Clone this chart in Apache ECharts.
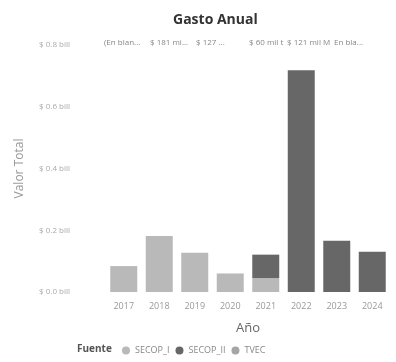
<!DOCTYPE html>
<html>
<head>
<meta charset="utf-8">
<script src="https://cdn.jsdelivr.net/npm/echarts@6/dist/echarts.min.js"></script>
<style>
  html, body { margin: 0; padding: 0; background: #fff; }
  #chart { width: 396px; height: 362px; }
</style>
</head>
<body>
<div id="chart"></div>
<script>
var years = ['2017', '2018', '2019', '2020', '2021', '2022', '2023', '2024'];
// valores en billones
var secopI = [0.084, 0.181, 0.127, 0.060, 0.045, 0, 0, 0];
var secopII = [0, 0, 0, 0, 0.076, 0.718, 0.166, 0.130];
var tvec = [0, 0, 0, 0, 0, 0, 0, 0];
var topLabels = ['(En blan...', '$ 181 mi...', '$ 127 ...', '$ 60 mil t', '$ 121 mil M', 'En bla...'];
var topLabelX = [104, 150, 196, 249, 287, 334];

var chart = echarts.init(document.getElementById('chart'));

var font = '"Open Sans", "DejaVu Sans", sans-serif';

var graphics = [{
    type: 'text',
    left: 77,
    top: 344,
    style: { text: 'Fuente', font: 'bold 10px ' + font, fill: '#555' }
}];
topLabels.forEach(function (t, i) {
    graphics.push({
        type: 'text',
        left: topLabelX[i],
        top: 39,
        style: { text: t, font: '8px ' + font, fill: '#888' }
    });
});

var option = {
    animation: false,
    title: {
        text: 'Gasto Anual',
        left: 168,
        top: 8,
        textStyle: { fontFamily: font, fontSize: 14, fontWeight: 'bold', color: '#333' }
    },
    legend: {
        left: 117,
        top: 341,
        icon: 'circle',
        itemWidth: 8,
        itemHeight: 8,
        itemGap: 6,
        textStyle: { fontFamily: font, fontSize: 9, color: '#888' },
        data: ['SECOP_I', 'SECOP_II', 'TVEC']
    },
    graphic: graphics,
    grid: { left: 106, right: 6, top: 45, bottom: 70 },
    xAxis: {
        type: 'category',
        data: years,
        name: 'Año',
        nameLocation: 'middle',
        nameGap: 30,
        nameTextStyle: { fontFamily: font, fontSize: 13, color: '#666' },
        axisLine: { show: false },
        axisTick: { show: false },
        axisLabel: { fontFamily: font, fontSize: 9, color: '#999', margin: 10 }
    },
    yAxis: {
        type: 'value',
        min: 0,
        max: 0.8,
        interval: 0.2,
        name: 'Valor Total',
        nameLocation: 'middle',
        nameGap: 80,
        nameTextStyle: { fontFamily: font, fontSize: 12, color: '#999' },
        axisLine: { show: false },
        axisTick: { show: false },
        splitLine: { show: false },
        axisLabel: {
            fontFamily: font, fontSize: 8, color: '#aaa', margin: 36,
            formatter: function (v) { return '$ ' + v.toFixed(1) + ' bill'; }
        }
    },
    series: [
        { name: 'SECOP_I', type: 'bar', stack: 'total', barWidth: '76%', data: secopI, itemStyle: { color: '#b9b9b9' } },
        { name: 'SECOP_II', type: 'bar', stack: 'total', data: secopII, itemStyle: { color: '#676767' } },
        { name: 'TVEC', type: 'bar', stack: 'total', data: tvec, itemStyle: { color: '#a5a5a5' } }
    ]
};

chart.setOption(option);
</script>
</body>
</html>
